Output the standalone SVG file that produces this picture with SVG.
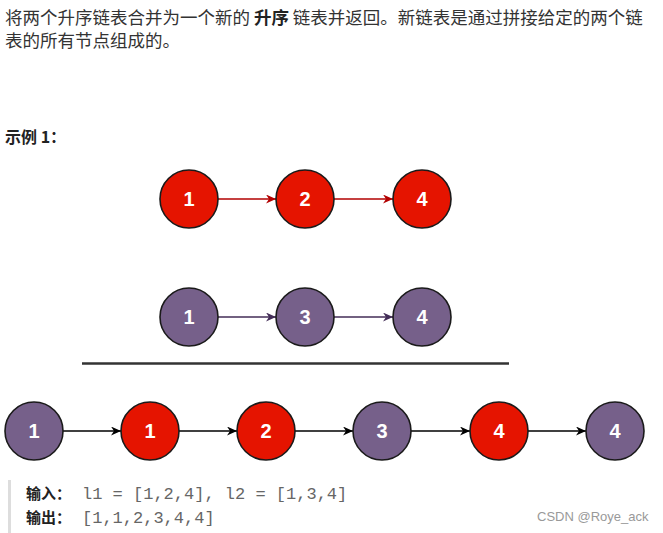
<svg xmlns="http://www.w3.org/2000/svg" width="663" height="533" viewBox="0 0 663 533">
<defs>
<style>
.para{font-family:"Noto Sans CJK SC","Liberation Sans",sans-serif;font-size:17.5px;fill:#333}
.h{font-family:"Noto Sans CJK SC","Liberation Sans",sans-serif;font-size:16px;font-weight:bold;fill:#222}
.lbl{font-family:"Noto Sans CJK SC","Liberation Sans",sans-serif;font-size:15px;font-weight:bold;fill:#222}
.code{font-family:"Liberation Mono",monospace;font-size:17px;fill:#666}
.wm{font-family:"Liberation Sans",sans-serif;font-size:13px;fill:#999}
.red{fill:#e51400;stroke:#1a1a1a;stroke-width:1.6}
.pur{fill:#76608a;stroke:#1a1a1a;stroke-width:1.6}
.num{font-family:"Liberation Sans",Arial,sans-serif;font-size:20px;font-weight:bold;fill:#fff;text-anchor:middle}
.ar{fill:none;stroke:#b20000;stroke-width:1.6;marker-end:url(#mr)}
.ap{fill:none;stroke:#432d57;stroke-width:1.6;marker-end:url(#mp)}
.ak{fill:none;stroke:#000;stroke-width:1.6;marker-end:url(#mk)}
</style>
<marker id="mr" markerUnits="userSpaceOnUse" markerWidth="12" markerHeight="10" refX="10" refY="4.5" orient="auto"><path d="M0,0 L10,4.5 L0,9 L3,4.5 Z" fill="#b20000"/></marker>
<marker id="mp" markerUnits="userSpaceOnUse" markerWidth="12" markerHeight="10" refX="10" refY="4.5" orient="auto"><path d="M0,0 L10,4.5 L0,9 L3,4.5 Z" fill="#432d57"/></marker>
<marker id="mk" markerUnits="userSpaceOnUse" markerWidth="12" markerHeight="10" refX="10" refY="4.5" orient="auto"><path d="M0,0 L10,4.5 L0,9 L3,4.5 Z" fill="#000"/></marker>
</defs>
<rect width="663" height="533" fill="#fff"/>
<g id="description">
<text class="para" x="5" y="24">将两个升序链表合并为一个新的 <tspan font-weight="bold" fill="#222">升序</tspan> 链表并返回。新链表是通过拼接给定的两个链</text>
<text class="para" x="5" y="47">表的所有节点组成的。</text>
<text class="h" x="5" y="143">示例 1：</text>
</g>
<g id="connectors">
<line class="ar" x1="218" y1="199" x2="276" y2="199"/>
<line class="ar" x1="334" y1="199" x2="393" y2="199"/>
<line class="ap" x1="218" y1="317" x2="276" y2="317"/>
<line class="ap" x1="334" y1="317" x2="393" y2="317"/>
<line class="ak" x1="63" y1="431" x2="121" y2="431"/>
<line class="ak" x1="179" y1="431" x2="237" y2="431"/>
<line class="ak" x1="295" y1="431" x2="353" y2="431"/>
<line class="ak" x1="411" y1="431" x2="470" y2="431"/>
<line class="ak" x1="528" y1="431" x2="586" y2="431"/>
</g>
<g id="separator"><line x1="82" y1="363.5" x2="509" y2="363.5" stroke="#333" stroke-width="2.5"/></g>
<g id="l1-n1"><circle class="red" cx="189" cy="199" r="29"/><text class="num" x="189" y="206">1</text></g>
<g id="l1-n2"><circle class="red" cx="305" cy="199" r="29"/><text class="num" x="305" y="206">2</text></g>
<g id="l1-n3"><circle class="red" cx="422" cy="199" r="29"/><text class="num" x="422" y="206">4</text></g>
<g id="l2-n1"><circle class="pur" cx="189" cy="317" r="29"/><text class="num" x="189" y="324">1</text></g>
<g id="l2-n2"><circle class="pur" cx="305" cy="317" r="29"/><text class="num" x="305" y="324">3</text></g>
<g id="l2-n3"><circle class="pur" cx="422" cy="317" r="29"/><text class="num" x="422" y="324">4</text></g>
<g id="m-n1"><circle class="pur" cx="34" cy="431" r="29"/><text class="num" x="34" y="438">1</text></g>
<g id="m-n2"><circle class="red" cx="150" cy="431" r="29"/><text class="num" x="150" y="438">1</text></g>
<g id="m-n3"><circle class="red" cx="266" cy="431" r="29"/><text class="num" x="266" y="438">2</text></g>
<g id="m-n4"><circle class="pur" cx="382" cy="431" r="29"/><text class="num" x="382" y="438">3</text></g>
<g id="m-n5"><circle class="red" cx="499" cy="431" r="29"/><text class="num" x="499" y="438">4</text></g>
<g id="m-n6"><circle class="pur" cx="615" cy="431" r="29"/><text class="num" x="615" y="438">4</text></g>
<g id="example">
<rect x="8" y="480" width="3" height="53" fill="#ddd"/>
<text class="lbl" x="26" y="499">输入：</text>
<text class="code" x="82" y="499">l1 = [1,2,4], l2 = [1,3,4]</text>
<text class="lbl" x="26" y="523">输出：</text>
<text class="code" x="82" y="523">[1,1,2,3,4,4]</text>
<text class="wm" x="537" y="521">CSDN @Roye_ack</text>
</g>
</svg>
